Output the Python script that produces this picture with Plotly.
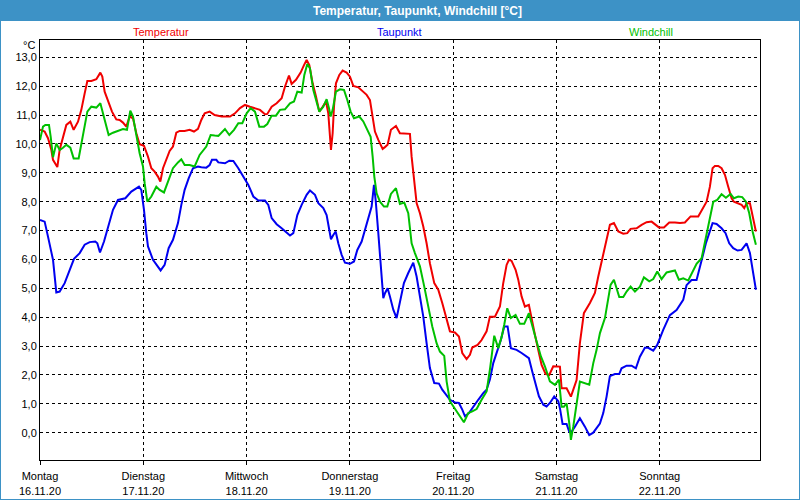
import plotly.graph_objects as go

# ---------------- data (hours since Monday 16.11.20 00:00) ----------------
temp_h = [0.0,1.08,1.86,2.63,3.02,4.03,4.57,5.34,6.12,7.05,
          7.82,8.83,9.60,10.38,11.0,11.93,13.09,14.02,14.48,15.02,
          15.8,16.73,17.73,18.51,19.28,20.06,20.83,21.61,22.38,23.15,
          24.16,25.09,25.87,26.64,27.41,27.96,28.58,29.35,30.12,30.9,
          31.67,32.45,33.61,34.77,35.78,36.71,37.48,38.26,39.42,40.58,
          42.21,44.15,45.31,46.47,47.63,48.79,49.95,51.12,52.28,52.82,
          53.83,54.99,56.15,56.92,57.85,58.47,59.48,60.56,61.34,61.96,
          62.58,63.35,64.13,64.90,65.68,66.45,66.99,67.38,67.61,68.0,
          68.31,68.77,69.55,70.32,71.25,72.03,72.80,73.96,74.97,75.90,
          76.67,77.29,77.83,78.61,79.62,
          80.15,80.77,81.54,82.71,83.63,84.80,85.96,86.35,86.96,87.51,
          88.28,89.06,89.83,90.60,91.61,92.54,93.47,94.48,95.25,96.41,
          97.34,98.12,99.12,99.9,100.44,101.68,102.61,103.77,104.54,105.71,
          106.87,107.64,108.42,108.96,109.58,110.51,111.13,111.9,112.68,113.6,
          114.22,115.0,115.77,116.55,117.48,118.33,119.26,120.27,120.81,121.2,
          122.36,123.36,124.68,125.45,126.38,127.78,128.94,129.72,130.73,131.66,
          132.43,133.36,134.37,135.53,136.46,137.23,138.63,139.79,140.95,142.11,
          142.88,143.81,144.98,146.21,147.53,148.69,149.85,151.17,152.95,153.96,
          154.89,155.66,156.28,156.82,157.6,158.37,159.15,159.92,160.7,161.24,
          162.25,163.02,163.64,164.18,164.96,165.58,166.35]
temp_v = [10.49,10.43,10.2,9.8,9.45,9.2,9.8,10.25,10.66,10.77,
          10.49,10.77,11.18,11.75,12.18,12.18,12.24,12.47,12.33,11.81,
          11.52,11.12,10.85,10.83,10.74,10.6,10.95,10.89,10.37,9.99,
          9.94,9.56,9.16,9.04,8.87,8.7,9.16,9.5,9.76,9.91,
          10.39,10.45,10.45,10.49,10.43,10.52,10.83,11.06,11.12,11.0,
          10.95,10.95,11.06,11.24,11.35,11.29,11.24,11.18,11.03,11.04,
          11.29,11.41,11.58,11.98,12.37,12.08,12.22,12.47,12.73,12.91,
          12.73,12.1,11.64,11.12,11.29,11.47,11.06,10.25,9.79,10.37,
          11.29,12.1,12.39,12.54,12.47,12.33,12.01,11.96,11.81,11.7,
          11.52,10.95,10.43,10.14,9.83,
          9.89,9.97,10.49,10.62,10.37,10.37,10.35,9.56,8.64,7.95,
          7.6,7.14,6.56,5.87,5.18,4.95,4.49,3.91,3.51,3.47,
          3.33,2.76,2.55,2.7,2.95,3.04,3.21,3.51,4.02,4.02,
          4.37,5.18,5.81,5.99,5.95,5.64,5.3,4.72,4.37,4.43,
          4.02,3.39,2.87,2.35,2.04,2.0,2.3,2.3,2.29,1.54,
          1.54,1.25,1.82,3.1,4.14,4.49,4.84,5.41,6.04,6.67,
          7.2,7.26,6.97,6.89,6.91,7.06,7.08,7.2,7.29,7.31,
          7.23,7.11,7.11,7.28,7.28,7.26,7.28,7.49,7.49,7.74,
          8.0,8.52,9.16,9.24,9.24,9.16,8.93,8.52,8.12,8.0,
          7.95,7.89,7.78,7.95,7.95,7.49,6.97]

wind_h = [0.0,0.70,1.24,2.09,2.48,3.02,3.79,4.57,5.34,6.12,
          7.05,7.82,8.98,9.99,11.0,11.93,13.09,14.02,15.02,15.95,
          16.96,18.12,19.28,20.21,20.98,21.61,22.38,23.15,23.93,24.32,
          24.94,25.87,27.03,27.8,28.81,29.74,30.9,32.06,32.84,33.61,
          34.77,35.93,37.09,38.64,39.65,40.58,
          41.44,42.98,43.99,45.08,46.08,47.01,48.02,48.95,49.95,50.96,
          52.05,52.82,53.83,54.83,55.76,56.92,58.09,59.02,59.79,60.80,
          61.42,62.11,62.73,63.51,64.28,64.90,65.83,66.6,67.15,67.53,
          68.0,68.77,69.70,70.63,71.41,72.18,72.96,74.19,75.12,76.05,
          76.83,77.29,77.68,78.22,79.0,79.92,80.70,
          81.54,82.71,83.63,84.64,85.57,86.35,87.12,88.28,89.29,90.22,
          91.15,92.15,92.93,93.93,94.48,95.25,96.41,97.34,98.5,99.51,
          100.44,101.45,102.61,103.77,104.54,105.55,106.48,107.25,107.87,108.57,
          109.42,110.51,111.51,112.52,113.6,114.38,115.39,116.39,117.32,118.48,
          119.65,120.58,121.2,121.74,122.36,122.98,123.36,123.91,124.68,125.45,
          127.63,128.56,129.33,130.11,131.27,132.04,132.58,133.36,133.98,134.6,
          135.53,136.3,137.23,138.24,139.4,140.33,141.57,142.5,143.43,144.43,
          145.6,146.37,147.53,148.46,149.47,150.63,151.79,152.56,153.73,154.5,
          155.28,155.89,156.44,157.37,158.37,159.38,160.46,161.24,162.25,163.17,
          164.03,164.8,165.58,166.35]
wind_v = [10.14,10.6,10.66,10.66,10.25,9.54,10.02,9.79,9.87,9.97,
          9.87,9.5,9.5,10.37,11.12,11.29,11.26,11.41,10.83,10.31,
          10.39,10.45,10.52,10.49,11.15,10.95,10.25,9.68,9.22,8.64,
          8.0,8.18,8.52,8.41,8.32,8.7,9.16,9.36,9.47,9.27,
          9.27,9.22,9.62,9.91,10.31,10.29,
          10.28,10.52,10.31,10.49,10.72,10.72,11.06,11.24,11.12,10.6,
          10.6,10.69,10.98,10.98,11.18,11.2,11.41,11.47,11.81,11.78,
          12.39,12.77,12.62,11.87,11.41,11.12,11.29,11.55,11.24,10.95,
          11.18,11.81,11.89,11.87,11.52,11.12,10.89,10.95,10.78,10.49,
          10.25,9.57,8.87,8.29,8.0,7.83,7.83,
          8.27,8.47,7.92,7.97,7.6,6.56,6.22,5.76,5.06,4.37,
          3.68,3.1,2.81,2.66,1.78,1.09,0.85,0.62,0.36,0.68,
          0.74,0.82,1.14,1.43,2.18,3.36,2.93,3.31,3.74,4.31,
          3.97,4.08,3.77,3.77,4.14,3.68,3.16,2.64,2.3,1.78,
          1.66,1.84,0.9,0.9,1.02,0.33,-0.25,0.21,1.02,1.77,
          1.66,2.41,2.87,3.45,3.97,4.72,5.12,5.3,4.95,4.7,
          4.7,4.89,5.06,4.89,5.06,5.38,5.24,5.32,5.58,5.32,
          5.55,5.58,5.62,5.3,5.35,5.27,5.64,5.85,6.04,6.56,
          7.14,7.6,8.0,8.06,8.26,8.14,8.27,8.12,8.18,8.16,
          8.0,7.6,6.97,6.51]

dew_h = [0.0,1.08,1.86,3.02,3.79,4.57,5.73,6.89,7.9,9.22,
         10.38,11.54,12.85,13.32,13.94,14.87,15.8,16.96,18.12,19.83,
         21.22,22.38,23.0,23.54,24.16,24.70,25.09,26.25,27.26,28.03,
         28.96,29.89,30.9,32.06,32.84,33.61,34.54,35.55,36.71,37.48,
         38.64,39.42,39.96,40.97,
         41.44,42.98,43.99,44.92,46.08,47.24,48.41,49.57,50.73,52.28,
         53.05,53.83,54.99,56.15,57.31,58.09,58.86,59.79,60.80,61.96,
         62.73,63.89,64.67,65.83,66.6,67.15,67.61,68.15,68.70,69.31,
         70.09,70.86,72.03,72.96,73.73,74.74,75.51,76.29,77.06,77.60,
         77.99,78.61,79.15,79.54,79.77,80.16,
         80.77,81.31,82.09,82.86,83.63,84.56,85.57,86.73,87.51,88.28,
         89.06,89.83,90.60,91.61,92.7,93.47,94.24,95.25,96.41,97.34,
         98.12,98.74,99.67,100.67,101.83,102.99,103.77,104.54,105.32,106.33,
         107.1,107.87,108.65,109.42,110.74,111.9,113.06,113.6,114.38,115.15,
         115.93,116.94,117.71,118.48,119.49,120.42,120.81,121.43,122.36,122.98,
         123.52,124.29,125.45,126.62,127.62,128.55,130.1,130.88,131.65,132.42,
         133.58,134.59,135.13,136.3,137.46,138.46,139.39,140.55,141.33,142.49,
         143.42,144.81,146.36,147.91,149.46,150.23,151.39,152.56,153.33,153.96,
         154.73,155.66,156.28,157.21,158.37,159.3,160.15,161.08,162.09,163.02,
         163.64,164.18,164.96,165.73,166.35]
dew_v = [7.37,7.31,6.79,5.99,4.86,4.89,5.18,5.64,6.02,6.22,
         6.51,6.6,6.62,6.56,6.24,6.62,7.14,7.72,8.06,8.12,
         8.35,8.47,8.52,8.41,7.72,6.91,6.45,5.99,5.76,5.62,
         5.81,6.39,6.68,7.26,7.89,8.41,8.81,9.16,9.22,9.19,
         9.18,9.27,9.45,9.45,
         9.36,9.33,9.42,9.41,9.16,8.87,8.58,8.18,8.04,8.04,
         7.89,7.43,7.22,7.08,6.91,6.83,6.91,7.54,7.89,8.24,
         8.39,8.24,7.95,7.78,7.54,7.14,6.7,6.85,6.97,6.56,
         6.16,5.89,5.85,5.93,6.33,6.62,7.03,7.43,7.83,8.58,
         8.06,6.91,5.99,5.18,4.66,4.83,
         5.0,4.72,4.26,3.97,4.49,5.18,5.53,5.89,5.41,4.72,
         4.02,3.1,2.24,1.72,1.7,1.49,1.32,1.14,1.05,1.03,
         0.8,0.57,0.68,0.91,1.14,1.37,1.49,1.84,2.41,2.87,
         3.22,3.68,3.68,2.93,2.87,2.76,2.64,2.58,2.12,1.72,
         1.26,0.97,0.91,1.03,1.26,1.09,0.85,0.3,0.3,0.03,
         0.03,0.21,0.5,0.21,-0.08,0.0,0.32,0.68,1.25,1.96,
         2.03,2.03,2.23,2.32,2.32,2.23,2.63,2.94,2.94,2.84,
         3.04,3.56,4.07,4.25,4.6,5.11,5.29,5.29,5.69,6.1,
         6.56,7.03,7.26,7.23,7.08,6.91,6.56,6.39,6.31,6.33,
         6.45,6.56,6.22,5.58,4.95]

assert len(temp_h) == len(temp_v)
assert len(wind_h) == len(wind_v)
assert len(dew_h) == len(dew_v)

day_ticks = [0, 24, 48, 72, 96, 120, 144]
day_names = ["Montag", "Dienstag", "Mittwoch", "Donnerstag", "Freitag", "Samstag", "Sonntag"]
day_dates = ["16.11.20", "17.11.20", "18.11.20", "19.11.20", "20.11.20", "21.11.20", "22.11.20"]
y_ticks = list(range(0, 14))

title_text = "Temperatur, Taupunkt, Windchill [°C]"
series = [
    ("Temperatur", temp_h, temp_v, "#f00000"),
    ("Taupunkt", dew_h, dew_v, "#0000f0"),
    ("Windchill", wind_h, wind_v, "#00c000"),
]

FONT = "Liberation Sans"
BAR = "#3d92c6"

fig = go.Figure()
for name, xs, ys, col in series:
    fig.add_trace(go.Scatter(x=xs, y=ys, mode="lines", name=name,
                             line=dict(color=col, width=2),
                             showlegend=False, hoverinfo="skip"))

# plot area pixels: x 40..760, y 40..460
W, H = 800, 500
L, R, T, B = 40, 40, 40, 40
pw, ph = W - L - R, H - T - B

def px(xp):
    return (xp - L) / pw

def py(yp):
    return (H - B - yp) / ph

fig.update_layout(
    width=W, height=H,
    margin=dict(l=L, r=R, t=T, b=B, pad=0, autoexpand=False),
    paper_bgcolor="white", plot_bgcolor="white",
    separators=",.",
    font=dict(family=FONT, size=11, color="black"),
    xaxis=dict(range=[0, 167.3], tickmode="array", tickvals=day_ticks,
               ticktext=[f"{n}<br>{d}" for n, d in zip(day_names, day_dates)],
               showgrid=True, gridcolor="black", gridwidth=1, griddash="3px,3px",
               showline=True, mirror=True, linecolor="black", linewidth=1,
               ticks="outside", ticklen=4, tickcolor="black",
               ticklabelstandoff=2,
               zeroline=False, fixedrange=True, automargin=False,
               tickfont=dict(family=FONT, size=11, color="black")),
    yaxis=dict(range=[-0.945, 13.6], tickmode="array", tickvals=y_ticks,
               tickformat=".1f",
               showgrid=True, gridcolor="black", gridwidth=1, griddash="3px,3px",
               showline=True, mirror=True, linecolor="black", linewidth=1,
               ticks="", zeroline=False, fixedrange=True, automargin=False,
               tickfont=dict(family=FONT, size=11, color="black")),
)

shapes = [
    dict(type="rect", xref="paper", yref="paper", x0=px(0), x1=px(W), y0=py(21), y1=py(0),
         fillcolor=BAR, line=dict(width=0), layer="below"),
    dict(type="rect", xref="paper", yref="paper", x0=px(0), x1=px(W), y0=py(H), y1=py(0),
         fillcolor="rgba(0,0,0,0)", line=dict(color=BAR, width=2)),
]
fig.update_layout(shapes=shapes)

ann = [
    dict(text=f"<b>{title_text}</b>", x=px(417), y=py(10.5), xref="paper", yref="paper",
         showarrow=False, xanchor="center", yanchor="middle",
         font=dict(family=FONT, size=12, color="white")),
    dict(text="°C", x=px(37), y=py(45), xref="paper", yref="paper",
         showarrow=False, xanchor="right", yanchor="middle",
         font=dict(family=FONT, size=11, color="black")),
]
label_pos = [161, 399, 651]
for (name, _, _, col), xp in zip(series, label_pos):
    ann.append(dict(text=name, x=px(xp), y=py(32), xref="paper", yref="paper",
                    showarrow=False, xanchor="center", yanchor="middle",
                    font=dict(family=FONT, size=11, color=col)))
fig.update_layout(annotations=ann)

fig.write_html("out.html", config={"displayModeBar": False})
